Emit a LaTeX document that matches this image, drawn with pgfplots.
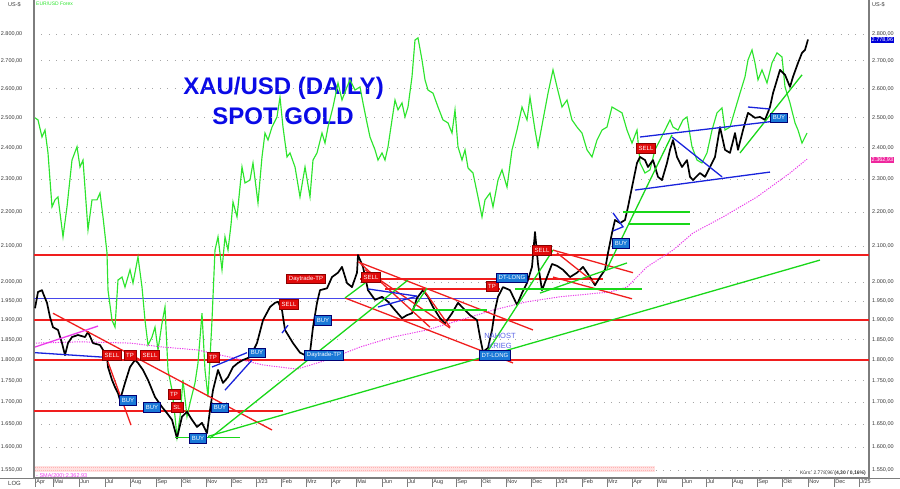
\documentclass[border=0pt]{standalone}
\usepackage{pgfplots}
\pgfplotsset{compat=1.18}
\usepackage{fontspec}
\setmainfont{Liberation Sans}
\definecolor{gred}{RGB}{240,30,30}
\definecolor{ggreen}{RGB}{45,228,45}
\definecolor{tgreen}{RGB}{25,215,25}
\definecolor{gblue}{RGB}{25,35,220}
\definecolor{hblue}{RGB}{70,70,235}
\definecolor{bbox}{RGB}{25,120,215}
\definecolor{rbox}{RGB}{225,10,10}
\definecolor{smac}{RGB}{235,60,235}
\definecolor{axgray}{RGB}{125,125,125}
\definecolor{tickc}{RGB}{55,55,55}
\definecolor{titleblue}{RGB}{10,10,230}
\definecolor{nahost}{RGB}{90,100,230}
\tikzset{
  rb/.style={fill=rbox, draw=red!55!black, text=white, font=\fontsize{6}{6}\selectfont, inner xsep=2.3pt, inner ysep=0pt, minimum height=9.5pt, line width=0.4pt},
  bb/.style={fill=bbox, draw=blue!45!black, text=white, font=\fontsize{6}{6}\selectfont, inner xsep=2.3pt, inner ysep=0pt, minimum height=9.5pt, line width=0.4pt},
  tl/.style={line width=1.3pt},
}
\begin{document}
\begin{tikzpicture}
\useasboundingbox (0pt,0pt) rectangle (900pt,488pt);
% title (behind the plots)
\node[anchor=base, font=\fontsize{24}{24}\selectfont\bfseries, text=titleblue, inner sep=0pt] at (283.5pt,393pt) {XAU/USD (DAILY)};
\node[anchor=base, font=\fontsize{24}{24}\selectfont\bfseries, text=titleblue, inner sep=0pt] at (283pt,363pt) {SPOT GOLD};
% right-hand scale
\begin{axis}[
  ymode=log,
  at={(34pt,10pt)}, anchor=south west,
  scale only axis, width=835pt, height=478pt,
  xmin=34, xmax=869, ymin=1534.2, ymax=2932.1,
  ytick={1550,1600,1650,1700,1750,1800,1850,1900,1950,2000,2100,2200,2300,2400,2500,2600,2700,2800},
  yticklabels={{1.550,00},{1.600,00},{1.650,00},{1.700,00},{1.750,00},{1.800,00},{1.850,00},{1.900,00},{1.950,00},{2.000,00},{2.100,00},{2.200,00},{2.300,00},{2.400,00},{2.500,00},{2.600,00},{2.700,00},{2.800,00}},
  ytick style={draw=none},
  ticklabel style={font=\fontsize{5.5}{6}\selectfont, text=tickc},
  axis line style={axgray, line width=1.2pt},
  axis y line*=right, axis x line=none,
  yticklabel style={anchor=west, inner sep=0pt, xshift=3pt},
]
\addplot[draw=none] coordinates {(100,2000)};
\end{axis}
\begin{axis}[
  ymode=log,
  at={(34pt,10pt)}, anchor=south west,
  scale only axis, width=835pt, height=478pt,
  xmin=34, xmax=869, ymin=1534.2, ymax=2932.1,
  ytick={1550,1600,1650,1700,1750,1800,1850,1900,1950,2000,2100,2200,2300,2400,2500,2600,2700,2800},
  yticklabels={{1.550,00},{1.600,00},{1.650,00},{1.700,00},{1.750,00},{1.800,00},{1.850,00},{1.900,00},{1.950,00},{2.000,00},{2.100,00},{2.200,00},{2.300,00},{2.400,00},{2.500,00},{2.600,00},{2.700,00},{2.800,00}},
  ytick style={draw=none},
  ticklabel style={font=\fontsize{5.5}{6}\selectfont, text=tickc},
  axis line style={axgray, line width=1.2pt},
  axis x line*=bottom, axis y line*=left,
  clip mode=individual,
  yticklabel style={anchor=east, inner sep=0pt, xshift=-2.5pt},
  xtick={35,53,79,105,130,156,181,206,231,256,281,306,331,356,382,407,432,456,481,506,531,556,582,607,632,657,682,706,732,757,782,808,834,859},
  xticklabels={Apr,Mai,Jun,Jul,Aug,Sep,Okt,Nov,Dec,J/23,Feb,Mrz,Apr,Mai,Jun,Jul,Aug,Sep,Okt,Nov,Dec,J/24,Feb,Mrz,Apr,Mai,Jun,Jul,Aug,Sep,Okt,Nov,Dec,J/25},
  xticklabel style={anchor=north west, inner sep=0pt, xshift=1.2pt, yshift=7.2pt},
  xtick style={draw=axgray, line width=0.6pt},
  tick align=outside, major tick length=9pt,
  ymajorgrids, grid style={draw=gray!70, line width=0.7pt, dash pattern=on 0.8pt off 6.6pt},
]
% pink indicator band
\fill[red!12] (axis cs:35,1546) rectangle (axis cs:655,1559);
\draw[red!30, line width=0.9pt, dash pattern=on 1pt off 1pt] (axis cs:35,1549) -- (axis cs:655,1549);
\draw[red!30, line width=0.9pt, dash pattern=on 1pt off 1pt] (axis cs:35,1556) -- (axis cs:655,1556);

% horizontal levels
\addplot[gred, tl] coordinates {(34,2075) (869,2075)};
\addplot[gred, tl] coordinates {(34,1900) (869,1900)};
\addplot[gred, tl] coordinates {(34,1800) (869,1800)};
\addplot[gred, tl] coordinates {(34,1680) (283,1680)};
\addplot[gred, tl] coordinates {(360,2009) (603,2009)};
\addplot[gred, tl] coordinates {(385,1982) (500,1982)};
\addplot[hblue, line width=0.8pt] coordinates {(34,1958) (498,1958)};

% EUR/USD Forex (overlay)
\addplot[ggreen, line width=1.15pt] coordinates {
(35,2499)(38,2492)(42,2435)(45,2458)(48,2383)(52,2215)(55,2236)(58,2245)(63,2127)(67,2215)(72,2360)(77,2403)(80,2338)(83,2360)(88,2147)(92,2236)(97,2236)(100,2257)(103,2185)(107,2081)(108,1979)(112,1900)(115,1882)(118,2006)(122,2014)(125,1987)(130,2034)(133,1998)(138,2070)(142,1987)(145,1900)(148,1837)(152,1857)(155,1882)(158,1825)(162,1892)(165,1934)(168,1776)(172,1728)(175,1667)(177,1621)(180,1667)(183,1752)(187,1667)(190,1698)(195,1745)(198,1793)(202,1918)(205,1776)(208,1712)(212,1900)(213,1961)(215,2089)(218,2127)(222,2034)(225,2127)(228,2089)(231,2162)(233,2230)(237,2185)(242,2338)(245,2288)(250,2297)(253,2351)(258,2227)(262,2370)(265,2448)(268,2425)(272,2468)(277,2502)(280,2570)(283,2468)(287,2370)(290,2383)(295,2338)(300,2245)(305,2338)(310,2245)(313,2360)(317,2383)(322,2448)(325,2415)(328,2468)(333,2536)(338,2620)(342,2560)(347,2606)(350,2631)(355,2595)(360,2606)(363,2550)(367,2482)(370,2435)(375,2393)(378,2360)(382,2383)(385,2360)(388,2403)(392,2492)(395,2560)(398,2526)(402,2550)(405,2502)(408,2536)(412,2642)(415,2777)(418,2785)(422,2703)(425,2631)(428,2595)(433,2584)(438,2536)(443,2492)(448,2482)(452,2448)(455,2526)(458,2403)(462,2360)(465,2393)(468,2335)(473,2319)(478,2245)(482,2185)(485,2236)(490,2257)(493,2215)(498,2297)(502,2329)(507,2275)(512,2393)(517,2458)(522,2536)(527,2492)(530,2570)(535,2458)(538,2403)(543,2492)(548,2584)(553,2667)(557,2606)(562,2536)(567,2560)(572,2492)(577,2468)(582,2448)(587,2393)(592,2370)(597,2425)(602,2458)(607,2468)(612,2536)(617,2526)(622,2516)(627,2458)(632,2415)(637,2458)(640,2351)(645,2319)(650,2329)(655,2393)(660,2425)(665,2458)(670,2492)(673,2468)(678,2458)(683,2492)(687,2502)(692,2403)(697,2360)(702,2351)(707,2383)(712,2458)(717,2516)(722,2533)(725,2458)(730,2468)(735,2526)(740,2584)(745,2642)(748,2703)(752,2740)(755,2692)(758,2631)(762,2667)(767,2620)(772,2692)(777,2729)(782,2714)(785,2606)(790,2550)(795,2482)(798,2458)(802,2415)(807,2448)
};

% SMA(200)
\addplot[smac, line width=1pt, dash pattern=on 1.2pt off 1.2pt] coordinates {
(36,1842)(80,1845)(130,1842)(163,1832)(197,1825)(230,1807)(263,1788)(297,1778)(327,1800)(360,1832)(393,1857)(427,1875)(460,1900)(493,1926)(527,1948)(560,1961)(590,1969)(610,1974)(627,1987)(647,2042)(673,2089)(693,2138)(723,2185)(757,2245)(790,2319)(807,2363)
};

% spot gold price
\addplot[black, line width=1.7pt, line join=round] coordinates {
(35,1931)(38,1974)(42,1979)(43,1971)(47,1945)(50,1908)(53,1882)(58,1875)(62,1842)(65,1812)(68,1842)(72,1857)(78,1862)(85,1857)(88,1870)(93,1842)(100,1837)(103,1825)(107,1807)(108,1783)(112,1752)(115,1735)(118,1721)(120,1705)(125,1745)(130,1783)(135,1800)(138,1793)(143,1776)(148,1752)(155,1712)(162,1689)(167,1675)(172,1660)(177,1619)(182,1667)(187,1678)(192,1660)(197,1644)(202,1653)(207,1630)(210,1682)(213,1728)(218,1776)(223,1745)(228,1759)(233,1783)(238,1793)(243,1800)(250,1807)(257,1842)(263,1900)(270,1934)(275,1945)(278,1948)(282,1926)(285,1875)(293,1842)(300,1818)(305,1812)(310,1818)(313,1882)(317,1945)(320,1979)(327,1984)(332,2014)(338,2026)(342,2042)(347,1998)(352,1987)(357,2026)(358,2075)(363,2042)(368,1979)(375,1953)(382,1961)(388,1948)(395,1926)(402,1905)(407,1913)(412,1918)(417,1958)(423,1979)(428,1961)(433,1934)(440,1905)(445,1892)(452,1918)(458,1945)(465,1926)(470,1913)(477,1900)(480,1857)(483,1820)(488,1830)(492,1875)(495,1926)(498,1961)(503,1987)(510,1979)(517,1940)(522,1971)(527,1998)(532,2042)(535,2141)(538,2050)(542,1979)(547,2014)(552,2050)(557,2045)(563,2034)(570,2014)(577,2026)(583,2042)(590,2014)(595,1992)(600,2014)(605,2034)(608,2081)(612,2138)(615,2176)(620,2167)(625,2176)(628,2215)(632,2275)(637,2351)(640,2370)(645,2360)(648,2338)(653,2360)(658,2307)(662,2297)(667,2351)(670,2393)(673,2425)(677,2370)(682,2338)(687,2360)(690,2307)(693,2297)(700,2319)(705,2307)(710,2338)(715,2370)(720,2468)(725,2393)(730,2383)(735,2448)(738,2393)(743,2458)(748,2516)(755,2499)(760,2502)(765,2492)(770,2536)(773,2584)(777,2631)(780,2667)(785,2649)(790,2606)(793,2642)(798,2692)(802,2729)(805,2740)(808,2779)
};

% red trend lines
\addplot[gred, tl] coordinates {(53,1918) (272,1637)};
\addplot[gred, tl] coordinates {(108,1795) (131,1648)};
\addplot[gred, tl] coordinates {(358,2056) (533,1875)};
\addplot[gred, tl] coordinates {(345,1958) (513,1793)};
\addplot[gred, tl] coordinates {(360,2053) (430,1882)};
\addplot[gred, tl] coordinates {(365,2034) (450,1880)};
\addplot[gred, tl] coordinates {(423,1982) (450,1882)};
\addplot[gred, tl] coordinates {(553,2089) (633,2026)};
\addplot[gred, tl] coordinates {(553,2014) (632,1956)};
\addplot[gred, tl] coordinates {(557,2081) (595,1998)};

% green trend lines
\addplot[tgreen, tl] coordinates {(175,1621) (240,1621)};
\addplot[tgreen, tl] coordinates {(208,1623) (820,2061)};
\addplot[tgreen, tl] coordinates {(210,1619) (408,2006)};
\addplot[tgreen, tl] coordinates {(345,1958) (365,1998)};
\addplot[tgreen, tl] coordinates {(412,1926) (487,1926)};
\addplot[tgreen, tl] coordinates {(412,1926) (427,1984)};
\addplot[tgreen, tl] coordinates {(482,1800) (553,2089)};
\addplot[tgreen, tl] coordinates {(515,1982) (642,1982)};
\addplot[tgreen, tl] coordinates {(540,1971) (627,2053)};
\addplot[tgreen, tl] coordinates {(607,2037) (672,2442)};
\addplot[tgreen, tl] coordinates {(623,2200) (690,2200)};
\addplot[tgreen, tl] coordinates {(628,2164) (690,2164)};
\addplot[tgreen, tl] coordinates {(740,2383) (802,2649)};

% blue and magenta trend lines
\addplot[gblue, tl] coordinates {(35,1818) (103,1807)};
\addplot[smac, tl] coordinates {(35,1832) (98,1885)};
\addplot[gblue, tl] coordinates {(212,1783) (247,1818)};
\addplot[gblue, tl] coordinates {(225,1728) (252,1800)};
\addplot[gblue, tl] coordinates {(282,1867) (288,1887)};
\addplot[gblue, tl] coordinates {(368,1982) (417,1963)};
\addplot[gblue, tl] coordinates {(378,1934) (417,1963)};
\addplot[gblue, tl] coordinates {(613,2197) (623,2156) (613,2144)};
\addplot[gblue, tl] coordinates {(640,2435) (770,2486)};
\addplot[gblue, tl] coordinates {(635,2266) (770,2322)};
\addplot[gblue, tl] coordinates {(672,2435) (722,2307)};
\addplot[gblue, tl] coordinates {(748,2536) (770,2529)};

% signal boxes
\node[rb] at (axis cs:112,1812) {SELL};
\node[rb] at (axis cs:130,1812) {TP};
\node[rb] at (axis cs:150,1812) {SELL};
\node[bb] at (axis cs:128,1705) {BUY};
\node[bb] at (axis cs:152,1689) {BUY};
\node[rb] at (axis cs:174,1718) {TP};
\node[rb] at (axis cs:177,1689) {SL};
\node[bb] at (axis cs:198,1619) {BUY};
\node[bb] at (axis cs:220,1687) {BUY};
\node[rb] at (axis cs:213,1807) {TP};
\node[bb] at (axis cs:257,1818) {BUY};
\node[rb] at (axis cs:289,1942) {SELL};
\node[rb] at (axis cs:306,2009) {Daytrade-TP};
\node[bb] at (axis cs:323,1900) {BUY};
\node[bb] at (axis cs:324,1812) {Daytrade-TP};
\node[rb] at (axis cs:371,2014) {SELL};
\node[rb] at (axis cs:492,1990) {TP};
\node[bb] at (axis cs:512,2012) {DT-LONG};
\node[bb] at (axis cs:495,1812) {DT-LONG};
\node[font=\fontsize{7.5}{8}\selectfont, text=nahost, inner sep=0pt] at (axis cs:500,1860) {NAHOST};
\node[font=\fontsize{7.5}{8}\selectfont, text=nahost, inner sep=0pt] at (axis cs:500,1836) {KRIEG};
\node[rb] at (axis cs:542,2089) {SELL};
\node[bb] at (axis cs:621,2109) {BUY};
\node[rb] at (axis cs:646,2399) {SELL};
\node[bb] at (axis cs:779,2499) {BUY};
\end{axis}

% frame extras and captions
\draw[axgray, line width=1pt] (0pt,10pt) -- (900pt,10pt);
\node[anchor=base west, font=\fontsize{6}{6}\selectfont, text=tickc, inner sep=0pt] at (8pt,2.5pt) {LOG};
\node[anchor=base west, font=\fontsize{5.5}{6}\selectfont, text=tickc, inner sep=0pt] at (8pt,481pt) {US-\$};
\node[anchor=base west, font=\fontsize{5.5}{6}\selectfont, text=tickc, inner sep=0pt] at (872pt,481pt) {US-\$};
\node[anchor=base west, font=\fontsize{5}{6}\selectfont, text=ggreen, inner sep=0pt] at (36pt,482pt) {EUR/USD Forex};
\node[anchor=base west, font=\fontsize{5.5}{6}\selectfont, text=smac, inner sep=0pt] at (36pt,11pt) {- SMA(200):2.362,93};
\node[anchor=base east, font=\fontsize{5}{6}\selectfont, text=tickc, inner sep=0pt] at (866pt,14pt) {Kurs: 2.778,96 \textbf{(4,30 / 0,16\%)}};
\node[anchor=west, fill=blue!85!black, text=white, font=\fontsize{5.5}{6}\selectfont, inner xsep=1pt, inner ysep=0.8pt] at (870.5pt,448pt) {2.778,96};
\node[anchor=west, fill=magenta!85, text=white, font=\fontsize{5.5}{6}\selectfont, inner xsep=1pt, inner ysep=0.8pt] at (870.5pt,328pt) {2.362,93};
\end{tikzpicture}
\end{document}
